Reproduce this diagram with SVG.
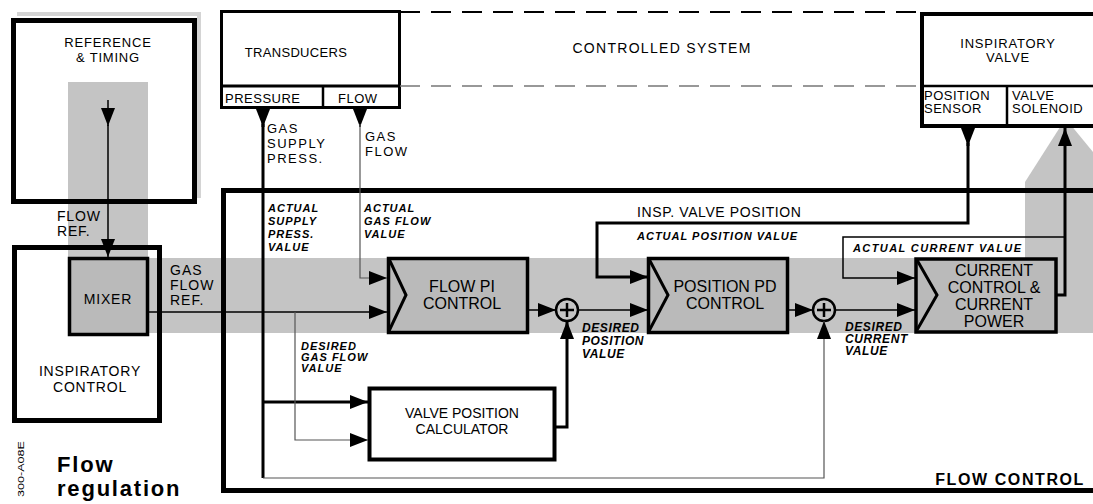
<svg xmlns="http://www.w3.org/2000/svg" width="1093" height="504" viewBox="0 0 1093 504">
<defs>
<marker id="ah" markerWidth="18" markerHeight="14" refX="18" refY="7" orient="auto" markerUnits="userSpaceOnUse"><path d="M0,0 L18,7 L0,14 Z" fill="#000"/></marker>
</defs>
<style>
text{font-family:"Liberation Sans",Arial,sans-serif;fill:#000}
.lbl{font-size:14px;letter-spacing:0.8px}
.hd{font-size:13px;letter-spacing:0.8px}
.blk{font-size:16px}
.cell{font-size:13px;letter-spacing:0.5px}
.sig{font-size:13px;letter-spacing:1.5px}
.it{font-size:11px;font-weight:bold;font-style:italic;letter-spacing:1px}
.it12{font-size:12px;font-weight:bold;font-style:italic;letter-spacing:0.6px}
.band{fill:#c4c4c4}
.gfill{fill:#bababa}
.thick{fill:none;stroke:#000;stroke-width:5}
.box{stroke:#000;stroke-width:3.5}
.ln{fill:none;stroke:#000;stroke-width:1.5}
.lnt{fill:none;stroke:#000;stroke-width:3}
.lng{fill:none;stroke:#555;stroke-width:1.2}
.dash{fill:none;stroke:#000;stroke-width:2;stroke-dasharray:20 11}
.dashg{fill:none;stroke:#777;stroke-width:1.5;stroke-dasharray:20 11}
.c{text-anchor:middle}
</style>
<rect width="1093" height="504" fill="#fff"/>

<g id="bands">
<rect class="band" x="68" y="82" width="80" height="176"/>
<rect class="band" x="148" y="258" width="945" height="75"/>
<polygon class="band" points="1025,258 1025,182 1062,124 1070,124 1093,152 1093,258"/>
</g>

<g id="reference-timing">
<rect x="17" y="12" width="184" height="4" fill="#d4d4d4"/>
<rect x="197" y="12" width="4" height="186" fill="#d4d4d4"/>
<rect class="thick" x="13.5" y="20.5" width="181" height="181"/>
<text class="hd c" x="108" y="47">REFERENCE</text>
<text class="hd c" x="108" y="62">&amp; TIMING</text>
</g>

<g id="inspiratory-control">
<rect class="thick" x="14.5" y="247.5" width="145" height="173"/>
<text class="lbl c" x="90" y="376">INSPIRATORY</text>
<text class="lbl c" x="90" y="392">CONTROL</text>
</g>

<g id="mixer">
<rect class="gfill box" x="69.5" y="258.5" width="78" height="76" stroke-width="3"/>
<text class="lbl c" x="108" y="304">MIXER</text>
</g>

<g id="transducers">
<rect x="221.5" y="11.5" width="178" height="96" fill="#fff" stroke="#000" stroke-width="3"/>
<line x1="221" y1="86" x2="400" y2="86" stroke="#000" stroke-width="3"/>
<line x1="323" y1="86" x2="323" y2="108" stroke="#000" stroke-width="2.5"/>
<text class="c" x="296" y="57" style="font-size:13px;letter-spacing:0.3px">TRANSDUCERS</text>
<text class="cell" x="225" y="103">PRESSURE</text>
<text class="cell" x="338" y="103">FLOW</text>
</g>

<g id="controlled-system">
<line class="dash" x1="400" y1="12" x2="920" y2="12"/>
<line class="dashg" x1="400" y1="86" x2="920" y2="86"/>
<text class="lbl c" x="662" y="53" style="letter-spacing:1.3px">CONTROLLED SYSTEM</text>
</g>

<g id="inspiratory-valve">
<rect x="922" y="14" width="200" height="112" fill="#fff" stroke="#000" stroke-width="4"/>
<line x1="920" y1="86" x2="1093" y2="86" stroke="#000" stroke-width="2.5"/>
<line x1="1007" y1="86" x2="1007" y2="128" stroke="#000" stroke-width="2.5"/>
<text class="hd c" x="1008" y="48">INSPIRATORY</text>
<text class="hd c" x="1008" y="62">VALVE</text>
<text class="cell" x="924" y="100">POSITION</text>
<text class="cell" x="924" y="113">SENSOR</text>
<text class="cell" x="1012" y="100">VALVE</text>
<text class="cell" x="1012" y="113">SOLENOID</text>
</g>

<g id="flow-control">
<rect class="thick" x="223.5" y="190.5" width="900" height="300"/>
<text x="1085" y="485" style="font-size:16px;font-weight:bold;letter-spacing:1.6px;text-anchor:end">FLOW CONTROL</text>
</g>

<g id="flow-pi-control">
<rect class="gfill box" x="388.5" y="258.5" width="139" height="74"/>
<polyline points="389,259 406,295 389,331" fill="none" stroke="#000" stroke-width="3"/>
<text class="blk c" x="462" y="292">FLOW PI</text>
<text class="blk c" x="462" y="309">CONTROL</text>
</g>

<g id="position-pd-control">
<rect class="gfill box" x="648.5" y="258.5" width="139" height="74"/>
<polyline points="649,259 668,295 649,331" fill="none" stroke="#000" stroke-width="3"/>
<text class="blk c" x="725" y="292">POSITION PD</text>
<text class="blk c" x="725" y="309">CONTROL</text>
</g>

<g id="current-control">
<rect class="gfill box" x="916" y="259" width="140" height="73" stroke-width="4"/>
<polyline points="917,260 937,295 917,330" fill="none" stroke="#000" stroke-width="3"/>
<text class="blk c" x="994" y="276">CURRENT</text>
<text class="blk c" x="994" y="293">CONTROL &amp;</text>
<text class="blk c" x="994" y="310">CURRENT</text>
<text class="blk c" x="994" y="327">POWER</text>
</g>

<g id="valve-position-calculator">
<rect x="369.5" y="388.5" width="185" height="71" fill="#fff" stroke="#000" stroke-width="4"/>
<text class="lbl c" x="462" y="418" style="letter-spacing:0px">VALVE POSITION</text>
<text class="lbl c" x="462" y="434" style="letter-spacing:0px">CALCULATOR</text>
</g>

<g id="sum-1">
<circle cx="567" cy="310" r="11" fill="#c4c4c4" stroke="#000" stroke-width="2.5"/>
<path d="M560,310 H574 M567,303 V317" stroke="#000" stroke-width="2.5"/>
</g>

<g id="sum-2">
<circle cx="824" cy="310" r="11" fill="#c4c4c4" stroke="#000" stroke-width="2.5"/>
<path d="M817,310 H831 M824,303 V317" stroke="#000" stroke-width="2.5"/>
</g>

<g id="connectors">
<path class="ln" d="M108,100 V126" marker-end="url(#ah)"/>
<path class="ln" d="M108,125 V257" marker-end="url(#ah)"/>
<path class="ln" d="M148,312 H387" marker-end="url(#ah)"/>
<path class="lnt" d="M263,108 V127" marker-end="url(#ah)"/>
<path class="lnt" d="M263,124 V478"/>
<path class="lnt" d="M263,402 H368" marker-end="url(#ah)"/>
<path class="lng" d="M263,478 H824 V321" marker-end="url(#ah)"/>
<path class="ln" d="M360,108 V127" marker-end="url(#ah)"/>
<path class="lng" d="M360,124 V278 H387" marker-end="url(#ah)"/>
<path class="lng" d="M295,312 V440 H368" marker-end="url(#ah)"/>
<path class="ln" d="M528,310 H556" marker-end="url(#ah)"/>
<path class="ln" d="M578,310 H648" marker-end="url(#ah)"/>
<path class="lnt" d="M555,427 H567 V321" stroke-width="2" marker-end="url(#ah)"/>
<path class="lnt" d="M968,128 V146" stroke-width="2.5" marker-end="url(#ah)"/>
<path class="lnt" d="M968,143 V223 H597 V277 H648" stroke-width="1.5" marker-end="url(#ah)"/>
<path class="ln" d="M788,310 H813" marker-end="url(#ah)"/>
<path class="ln" d="M835,310 H915" marker-end="url(#ah)"/>
<path class="lnt" d="M1057,295 H1065 V128" stroke-width="2" marker-end="url(#ah)"/>
<path class="ln" d="M1065,237 H843 V278 H915" marker-end="url(#ah)"/>
</g>

<g id="labels">
<text class="lbl" x="57" y="221">FLOW</text>
<text class="lbl" x="57" y="236">REF.</text>
<text class="lbl" x="170" y="275" style="letter-spacing:1px">GAS</text>
<text class="lbl" x="170" y="290" style="letter-spacing:1px">FLOW</text>
<text class="lbl" x="170" y="305" style="letter-spacing:1px">REF.</text>
<text class="sig" x="267" y="133">GAS</text>
<text class="sig" x="267" y="148">SUPPLY</text>
<text class="sig" x="267" y="163">PRESS.</text>
<text class="sig" x="365" y="141">GAS</text>
<text class="sig" x="365" y="156">FLOW</text>
<text class="it" x="268" y="212">ACTUAL</text>
<text class="it" x="268" y="225">SUPPLY</text>
<text class="it" x="268" y="238">PRESS.</text>
<text class="it" x="268" y="251">VALUE</text>
<text class="it" x="364" y="212">ACTUAL</text>
<text class="it" x="364" y="225">GAS FLOW</text>
<text class="it" x="364" y="238">VALUE</text>
<text class="it" x="301" y="350">DESIRED</text>
<text class="it" x="301" y="361">GAS FLOW</text>
<text class="it" x="301" y="372">VALUE</text>
<text class="lbl" x="637" y="217" style="letter-spacing:0.6px">INSP. VALVE POSITION</text>
<text class="it" x="637" y="240">ACTUAL POSITION VALUE</text>
<text class="it12" x="582" y="332">DESIRED</text>
<text class="it12" x="582" y="345">POSITION</text>
<text class="it12" x="582" y="358">VALUE</text>
<text class="it12" x="845" y="331">DESIRED</text>
<text class="it12" x="845" y="343">CURRENT</text>
<text class="it12" x="845" y="355">VALUE</text>
<text class="it" x="853" y="252" style="letter-spacing:1.4px">ACTUAL CURRENT VALUE</text>
<text x="57" y="472" style="font-size:22px;font-weight:bold;letter-spacing:1.8px">Flow</text>
<text x="57" y="496" style="font-size:22px;font-weight:bold;letter-spacing:1.8px">regulation</text>
<text x="24" y="497" transform="rotate(-90 24 497)" style="font-size:9px" textLength="56" lengthAdjust="spacingAndGlyphs">300-A08E</text>
</g>
</svg>
